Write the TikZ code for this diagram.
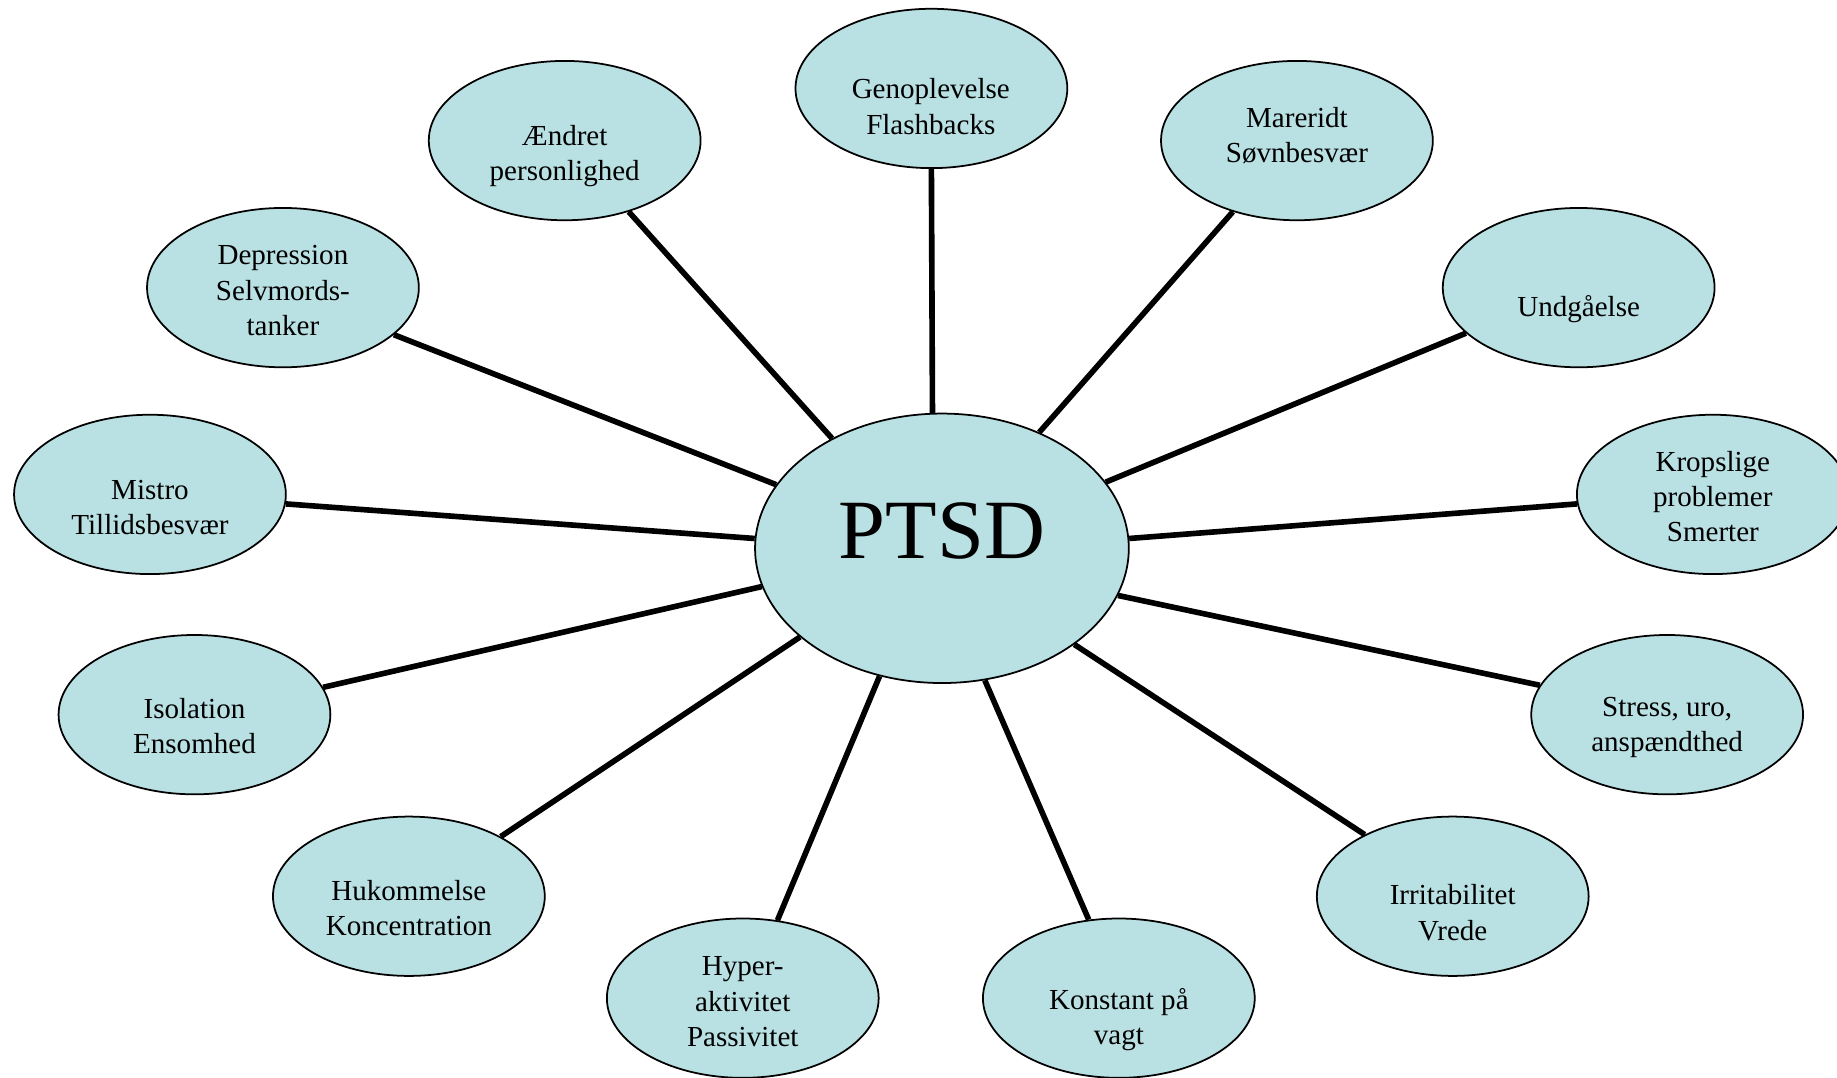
\documentclass[tikz,border=0pt]{standalone}
\usepackage{fontspec}
\setmainfont{Liberation Serif}
\usetikzlibrary{shapes.geometric}
\definecolor{bubble}{HTML}{B9E0E3}
\begin{document}
\begin{tikzpicture}[x=1pt,y=-1pt,
  bub/.style={ellipse,draw=black,line width=1.5pt,fill=bubble,inner sep=0pt,minimum width=232pt,minimum height=136pt},
  hub/.style={ellipse,draw=black,line width=1.5pt,fill=bubble,inner sep=0pt,minimum width=319pt,minimum height=230pt},
  lbl/.style={align=center,inner sep=0pt,font=\fontsize{24.8}{30}\selectfont},
  spoke/.style={line width=4.8pt}]
\clip (0,0) rectangle (1568,919.3);
\fill[white] (0,0) rectangle (1568,919.3);
% nodes
\node[hub] (ptsd) at (804,468) {};
\node[bub] (geno) at (795,75.5) {};
\node[bub] (aend) at (482,120) {};
\node[bub] (mare) at (1107,120) {};
\node[bub] (depr) at (241.5,245.5) {};
\node[bub] (undg) at (1347.5,245.5) {};
\node[bub] (mist) at (128,422) {};
\node[bub] (krop) at (1462,422) {};
\node[bub] (isol) at (166,610) {};
\node[bub] (stre) at (1423,610) {};
\node[bub] (huko) at (349,765) {};
\node[bub] (irri) at (1240,765) {};
\node[bub] (hype) at (634,852) {};
\node[bub] (kons) at (955,852) {};
% connectors
\draw[spoke] (ptsd.94.5) -- (geno.270);
\draw[spoke] (ptsd.135.3) -- (aend.312);
\draw[spoke] (ptsd.50.4) -- (mare.228.5);
\draw[spoke] (ptsd.159.5) -- (depr.337.7);
\draw[spoke] (ptsd.22.6) -- (undg.202.3);
\draw[spoke] (ptsd.177.1) -- (mist.356);
\draw[spoke] (ptsd.3.9) -- (krop.184);
\draw[spoke] (ptsd.192.7) -- (isol.12.8);
\draw[spoke] (ptsd.345.9) -- (stre.167);
\draw[spoke] (ptsd.212.9) -- (huko.33.5);
\draw[spoke] (ptsd.324.3) -- (irri.145.8);
\draw[spoke] (ptsd.244.1) -- (hype.66.7);
\draw[spoke] (ptsd.288.7) -- (kons.111.8);
% labels
\node[inner sep=0pt,font=\fontsize{72}{80}\selectfont] (tptsd) at (804,453) {PTSD};
\node[lbl] (tgeno) at (794.5,91) {Genoplevelse\\Flashbacks};
\node[lbl] (taend) at (482,133) {Ændret\\personlighed};
\node[lbl] (tmare) at (1107,116) {Mareridt\\Søvnbesvær};
\node[lbl] (tdepr) at (241.5,248) {Depression\\Selvmords-\\tanker};
\node[lbl] (tundg) at (1347.5,264) {Undgåelse};
\node[lbl] (tmist) at (128,433) {Mistro\\Tillidsbesvær};
\node[lbl] (tkrop) at (1462,424) {Kropslige\\problemer\\Smerter};
\node[lbl] (tisol) at (166,620) {Isolation\\Ensomhed};
\node[lbl] (tstre) at (1423,621) {Stress, uro,\\anspændthed};
\node[lbl] (thuko) at (349,775) {Hukommelse\\Koncentration};
\node[lbl] (tirri) at (1240,779) {Irritabilitet\\Vrede};
\node[lbl] (thype) at (634,855) {Hyper-\\aktivitet\\Passivitet};
\node[lbl] (tkons) at (955,870) {Konstant på\\vagt};
\end{tikzpicture}
\end{document}
